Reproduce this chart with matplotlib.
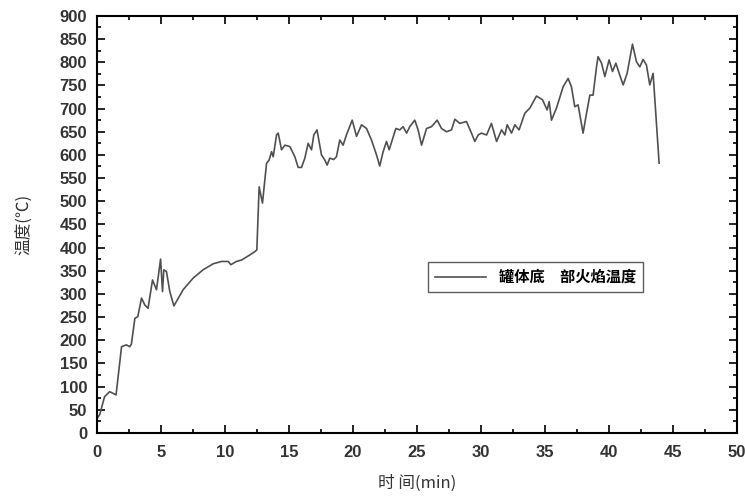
import numpy as np
import matplotlib.pyplot as plt
from matplotlib.ticker import MultipleLocator

plt.rcParams["font.family"] = ["Liberation Sans", "Noto Sans CJK SC", "DejaVu Sans"]

# time (min) and temperature (C)
time_min = [
    0.0, 0.23, 0.6, 1.0, 1.5, 1.93, 2.3, 2.58, 2.7, 2.97, 3.2, 3.49, 3.75, 4.0,
    4.35, 4.66, 4.98, 5.13, 5.23, 5.44, 5.7, 6.02, 6.74, 7.52, 8.3, 9.09, 9.74,
    10.26, 10.47, 10.9, 11.3, 11.95, 12.34, 12.5, 12.68, 12.94, 13.26, 13.46,
    13.65, 13.78, 14.04,
    14.17, 14.43, 14.69, 15.08, 15.47, 15.73, 15.99, 16.25, 16.51, 16.77, 16.95,
    17.2, 17.55, 17.81, 17.99, 18.2, 18.5, 18.72, 18.98, 19.24, 19.5, 19.95,
    20.29, 20.68, 21.07, 21.46, 21.85, 22.1, 22.37, 22.63, 22.84, 23.36, 23.67,
    23.93, 24.2, 24.45, 24.84, 25.1, 25.37, 25.76, 26.15, 26.59, 26.93, 27.32,
    27.71, 27.97, 28.36, 28.88, 29.27, 29.53, 29.79, 30.05, 30.45, 30.83, 31.23,
    31.62, 31.88, 32.06, 32.4, 32.66, 32.99, 33.44, 33.83, 34.35, 34.82, 35.18,
    35.34, 35.52, 35.91, 36.43, 36.82, 37.08, 37.34, 37.6, 37.99, 38.26, 38.52,
    38.77, 39.04, 39.16, 39.43, 39.69, 40.02, 40.29, 40.55, 40.81, 41.12, 41.43,
    41.85, 42.16, 42.42, 42.68, 42.94, 43.2, 43.46, 43.93,
]
temp_c = [
    30, 40, 78, 89, 82, 186, 190, 186, 192, 247, 251, 291, 276, 269,
    330, 309, 375, 305, 352, 348, 305, 274, 309, 334, 352, 365, 370,
    370, 363, 370, 373, 384, 391, 395, 531, 496, 582, 589,
    607, 596, 643,
    647, 611, 621, 618, 596, 573, 573, 593, 625, 611, 643,
    654, 600, 589, 578, 593, 590, 596, 632, 621, 643, 675,
    640, 665, 657, 632, 600, 576, 607, 629, 611, 657, 654,
    661, 647, 661, 675, 654, 621, 657, 661, 675, 657, 650,
    654, 677, 668, 672, 647, 629, 643, 647, 643, 668, 629,
    654, 643, 665, 647, 665, 654, 690, 701, 727, 719, 697,
    715, 675, 701, 747, 765, 747, 704, 708, 647, 690, 729,
    729, 790, 812, 798, 769, 805, 780, 798, 776, 751, 776,
    839, 801, 790, 806, 794, 751, 776, 582,
]

fig = plt.figure(figsize=(7.45, 4.97), dpi=100)
ax = fig.add_axes([0.130, 0.129, 0.859, 0.839])

ax.plot(time_min, temp_c, color="#505050", linewidth=1.2, label="罐体底　部火焰温度")

ax.set_xlim(0, 50)
ax.set_ylim(0, 900)
ax.xaxis.set_major_locator(MultipleLocator(5))
ax.xaxis.set_minor_locator(MultipleLocator(2.5))
ax.yaxis.set_major_locator(MultipleLocator(50))
ax.yaxis.set_minor_locator(MultipleLocator(25))
ax.tick_params(which="both", direction="in", top=True, right=True, width=1.2)
ax.tick_params(which="major", length=6, labelsize=12, labelcolor="#333333")
ax.tick_params(which="minor", length=3)
ax.tick_params(axis="x", pad=9)
ax.tick_params(axis="y", pad=7)
for lab in ax.get_xticklabels() + ax.get_yticklabels():
    lab.set_fontweight("bold")
for s in ax.spines.values():
    s.set_linewidth(1.5)

ax.set_xlabel("时 间(min)", fontsize=12, family=["Noto Sans CJK SC"], color="#333333",
              labelpad=10)
ax.set_ylabel("温度(℃)", fontsize=12, family=["Noto Sans CJK SC", "DejaVu Sans"],
              color="#333333", labelpad=19)

leg = ax.legend(loc="lower left", bbox_to_anchor=(0.505, 0.32), fancybox=False,
                edgecolor="#333333", handlelength=3.4, borderpad=0.45,
                prop={"family": ["Noto Sans CJK SC"], "size": 11, "weight": "bold"})
leg.get_frame().set_linewidth(1.0)

fig.savefig("out.png", dpi=100)
